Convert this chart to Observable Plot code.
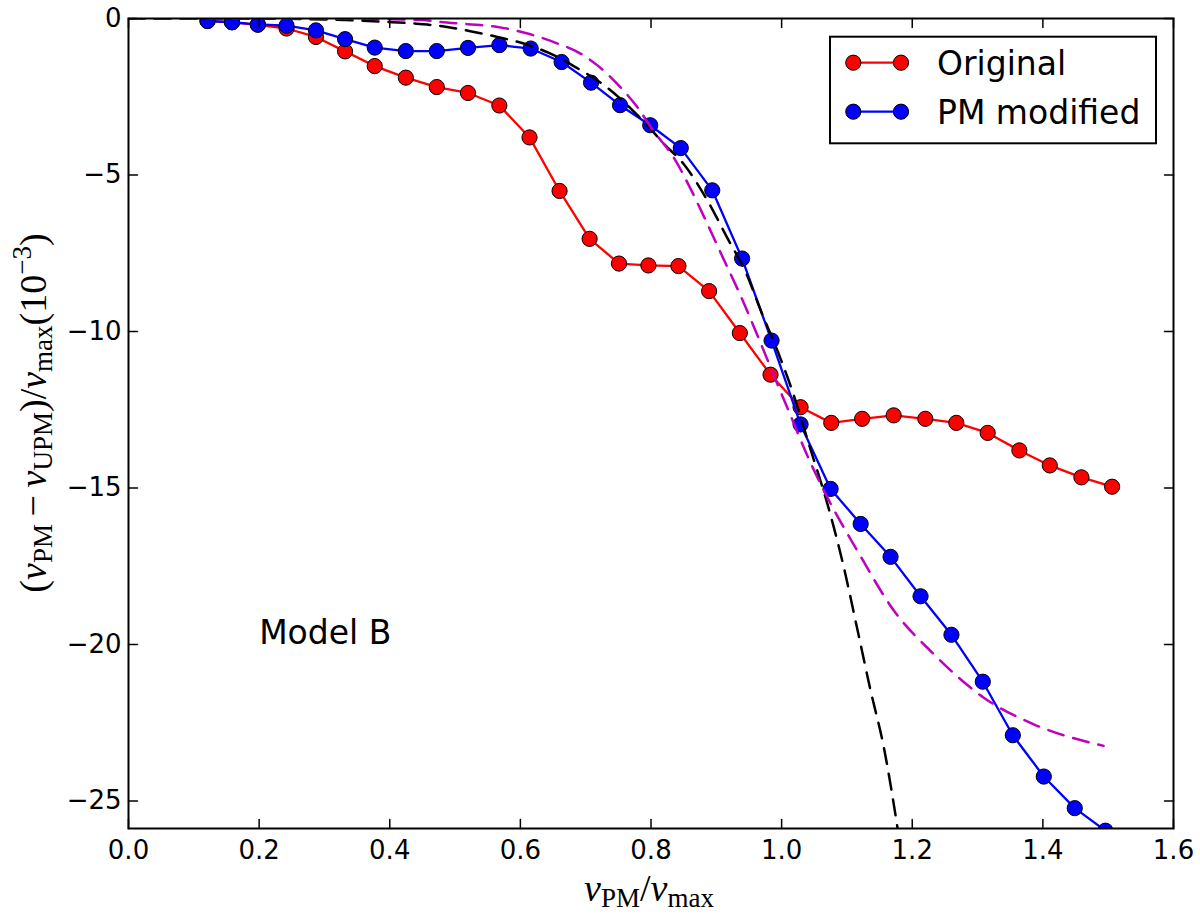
<!DOCTYPE html>
<html>
<head>
<meta charset="utf-8">
<script src="https://cdn.jsdelivr.net/npm/d3@7"></script>
<script src="https://cdn.jsdelivr.net/npm/@observablehq/plot@0.6"></script>
<style>
  html, body { margin: 0; padding: 0; background: #fff; }
  svg { display: block; }
</style>
</head>
<body>
<div id="chart"></div>
<script>
// ---- data ----
const seriesNames = ["Original", "PM modified"];

const xOriginal = [0.121, 0.1585, 0.198, 0.242, 0.287, 0.3316, 0.377, 0.4246, 0.472, 0.5198, 0.5678, 0.614, 0.660, 0.706, 0.751, 0.796, 0.842, 0.889, 0.936, 0.983, 1.029, 1.076, 1.1233, 1.1715, 1.220, 1.2675, 1.3155, 1.364, 1.4106, 1.459, 1.506];
const yOriginal = [-0.08, -0.12, -0.20, -0.32, -0.59, -1.05, -1.52, -1.89, -2.19, -2.38, -2.78, -3.80, -5.51, -7.04, -7.83, -7.89, -7.91, -8.71, -10.05, -11.38, -12.42, -12.92, -12.79, -12.68, -12.79, -12.92, -13.24, -13.80, -14.28, -14.66, -14.96];

const xModified = [0.121, 0.1585, 0.198, 0.242, 0.287, 0.3316, 0.377, 0.4246, 0.472, 0.5198, 0.5678, 0.6158, 0.6631, 0.7082, 0.7526, 0.7988, 0.8456, 0.8938, 0.9395, 0.9846, 1.029, 1.075, 1.121, 1.1668, 1.2127, 1.260, 1.308, 1.354, 1.4014, 1.4488, 1.4958];
const yModified = [-0.08, -0.12, -0.19, -0.23, -0.38, -0.66, -0.93, -1.04, -1.04, -0.94, -0.85, -0.96, -1.39, -2.05, -2.77, -3.41, -4.14, -5.49, -7.67, -10.29, -12.97, -15.03, -16.15, -17.20, -18.46, -19.69, -21.19, -22.90, -24.22, -25.23, -25.95];

// black dashed curve
const xBlackDash = [0, 0.1, 0.2, 0.3, 0.396, 0.437, 0.488, 0.529, 0.565, 0.605, 0.651, 0.692, 0.7175, 0.753, 0.794, 0.8196, 0.850, 0.886, 0.9166, 0.947, 0.9675, 0.998, 1.018, 1.044, 1.070, 1.0954, 1.1158, 1.136, 1.1566, 1.18];
const yBlackDash = [0, 0, -0.005, -0.03, -0.11, -0.16, -0.27, -0.43, -0.59, -0.80, -1.17, -1.65, -1.97, -2.56, -3.41, -4.0, -4.65, -5.8, -7.0, -8.2, -9.3, -10.85, -12.0, -13.75, -15.5, -17.55, -19.5, -21.45, -23.3, -26.2];

// magenta dashed curve
const xMagentaDash = [0, 0.2, 0.35, 0.45, 0.478, 0.519, 0.565, 0.611, 0.657, 0.692, 0.7175, 0.753, 0.779, 0.804, 0.835, 0.862, 0.886, 0.911, 0.937, 0.9625, 0.990, 1.013, 1.039, 1.070, 1.1158, 1.172, 1.233, 1.3095, 1.386, 1.493];
const yMagentaDash = [0, 0, -0.01, -0.05, -0.11, -0.18, -0.27, -0.48, -0.80, -1.12, -1.49, -2.19, -2.83, -3.6, -4.45, -5.5, -6.55, -7.68, -8.85, -10.1, -11.5, -12.65, -13.95, -15.30, -17.0, -18.92, -20.31, -21.70, -22.55, -23.24];

const xTicks = [0.0, 0.2, 0.4, 0.6, 0.8, 1.0, 1.2, 1.4, 1.6];
const yTicks = [0, -5, -10, -15, -20, -25];
const annotation = [{x: 0.2, y: -20, label: "Model B"}];

// ---- build tables ----
const zip = (xs, ys, name) => xs.map((x, i) => ({x, y: ys[i], series: name}));
const original = zip(xOriginal, yOriginal, seriesNames[0]);
const modified = zip(xModified, yModified, seriesNames[1]);
const blackDash = zip(xBlackDash, yBlackDash, "black");
const magentaDash = zip(xMagentaDash, yMagentaDash, "magenta");

const RED = "#ff0000", BLUE = "#0000ff", MAGENTA = "#bf00bf";
const TICK_LEN = 9;
const tickShape = {draw(context, l) { context.moveTo(0, 0); context.lineTo(0, -l); }};

const svg = Plot.plot({
  width: 1200,
  height: 915,
  marginLeft: 128,
  marginRight: 27,
  marginTop: 18,
  marginBottom: 87,
  style: {fontFamily: "'DejaVu Sans', sans-serif", fontSize: "26px", background: "#fff", color: "#000"},
  x: {domain: [0, 1.6], label: null},
  y: {domain: [-25.88, 0], label: null},
  marks: [
    Plot.line(original, {x: "x", y: "y", stroke: RED, strokeWidth: 2.3, clip: true}),
    Plot.dot(original, {x: "x", y: "y", r: 7.6, fill: RED, stroke: "#000", strokeWidth: 1, clip: true}),
    Plot.line(modified, {x: "x", y: "y", stroke: BLUE, strokeWidth: 2.3, clip: true}),
    Plot.dot(modified, {x: "x", y: "y", r: 7.6, fill: BLUE, stroke: "#000", strokeWidth: 1, clip: true}),
    Plot.line(blackDash, {x: "x", y: "y", stroke: "#000", strokeWidth: 2.5, strokeDasharray: "16,10", curve: "monotone-x", clip: true}),
    Plot.line(magentaDash, {x: "x", y: "y", stroke: MAGENTA, strokeWidth: 2.5, strokeDasharray: "16,10", curve: "monotone-x", clip: true}),
    Plot.text(annotation, {x: "x", y: "y", text: "label", textAnchor: "start", lineAnchor: "bottom", fontSize: 33, fill: "#000"}),
    Plot.frame({stroke: "#000", strokeWidth: 2}),
    // inward ticks on all four sides
    Plot.vector(xTicks, {x: d => d, frameAnchor: "bottom", length: TICK_LEN, anchor: "start", rotate: 0, shape: tickShape, stroke: "#000", strokeWidth: 1.5}),
    Plot.vector(xTicks, {x: d => d, frameAnchor: "top", length: TICK_LEN, anchor: "start", rotate: 180, shape: tickShape, stroke: "#000", strokeWidth: 1.5}),
    Plot.vector(yTicks, {y: d => d, frameAnchor: "left", length: TICK_LEN, anchor: "start", rotate: 90, shape: tickShape, stroke: "#000", strokeWidth: 1.5}),
    Plot.vector(yTicks, {y: d => d, frameAnchor: "right", length: TICK_LEN, anchor: "start", rotate: -90, shape: tickShape, stroke: "#000", strokeWidth: 1.5}),
    Plot.axisX({ticks: xTicks, tickSize: 0, tickPadding: 12, tickFormat: d3.format(".1f"), fontSize: 26, label: null}),
    Plot.axisY({ticks: yTicks, tickSize: 0, tickPadding: 7, tickFormat: d3.format("d"), fontSize: 26, label: null})
  ]
});

document.getElementById("chart").appendChild(svg);

// ---- legend (inside plot, upper right) ----
const root = d3.select(svg);
const lg = root.append("g").attr("font-family", "'DejaVu Sans', sans-serif").attr("text-anchor", "start");
lg.append("rect")
  .attr("x", 830).attr("y", 36.7).attr("width", 326).attr("height", 106.6)
  .attr("fill", "#fff").attr("stroke", "#000").attr("stroke-width", 2);
const legendColors = [RED, BLUE];
seriesNames.forEach((name, i) => {
  const cy = 62.7 + i * 49;
  lg.append("line").attr("x1", 853.3).attr("x2", 901).attr("y1", cy).attr("y2", cy)
    .attr("stroke", legendColors[i]).attr("stroke-width", 2.3);
  [853.3, 901].forEach(cx => lg.append("circle").attr("cx", cx).attr("cy", cy).attr("r", 7.6)
    .attr("fill", legendColors[i]).attr("stroke", "#000").attr("stroke-width", 1));
  lg.append("text").attr("x", 937).attr("y", cy + 12.3).attr("font-size", 33)
    .attr("text-anchor", "start").attr("fill", "#000").text(name);
});

// ---- math axis labels ----
const MATH = "'Liberation Serif', 'DejaVu Serif', serif";
function mathLabel(g, parts) {
  const t = g.append("text").attr("font-family", MATH).attr("font-size", 38).attr("fill", "#000");
  let shift = 0;
  parts.forEach(p => {
    const [str, kind] = p;
    const span = t.append("tspan").text(str);
    let target = 0, size = 38;
    if (kind === "sub") { target = 6; size = 27; }
    else if (kind === "sup") { target = -15; size = 27; }
    span.attr("font-size", size);
    if (kind === "it") span.attr("font-style", "italic");
    if (target !== shift) { span.attr("dy", target - shift); shift = target; }
  });
  return t;
}
const xl = root.append("g").attr("transform", "translate(649,901)");
mathLabel(xl, [["ν", "it"], ["PM", "sub"], ["/", "rm"], ["ν", "it"], ["max", "sub"]]).attr("text-anchor", "middle");

const yl = root.append("g").attr("transform", "translate(46,413) rotate(-90)");
mathLabel(yl, [["(", "rm"], ["ν", "it"], ["PM", "sub"], ["\u2009−\u2009", "rm"], ["ν", "it"], ["UPM", "sub"], [")/", "rm"], ["ν", "it"], ["max", "sub"], ["(10", "rm"], ["−3", "sup"], [")", "rm"]]).attr("text-anchor", "middle");
</script>
</body>
</html>
